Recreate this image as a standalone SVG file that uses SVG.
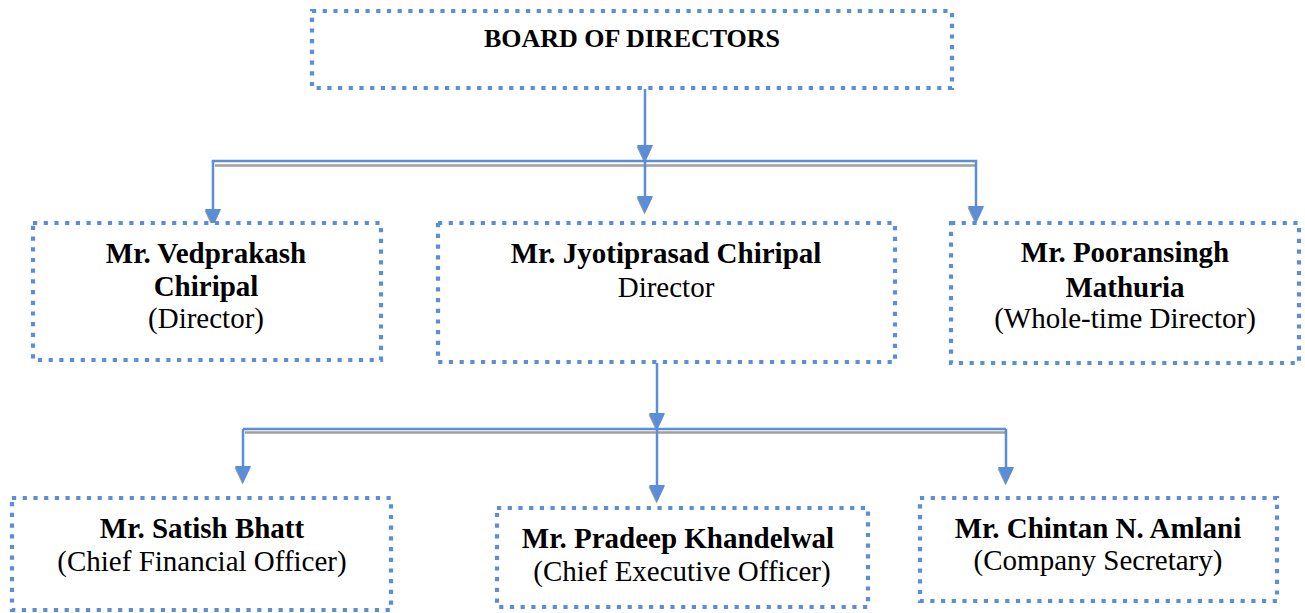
<svg xmlns="http://www.w3.org/2000/svg" width="1305" height="613" viewBox="0 0 1305 613">
<style>
.box{fill:#ffffff;stroke:#5a8ed8;stroke-width:4.2;stroke-dasharray:4.2 6.5}
.line{fill:none;stroke:#5a8ed8;stroke-width:2.5}
.shadow{fill:none;stroke:#a0a0a0;stroke-width:2.3}
text{font-family:"Liberation Serif","Times New Roman",serif;fill:#000;text-anchor:middle}
.b{font-weight:bold;font-size:29px}
.r{font-size:29px}
.t{font-weight:bold;font-size:26px}
</style>
<defs>
<marker id="arr" markerUnits="userSpaceOnUse" viewBox="0 0 19 17" refX="0" refY="8.5" markerWidth="19" markerHeight="17" orient="auto" overflow="visible">
<path d="M1.5,1 L18.5,9 L1.5,17 Z" fill="#9a9a9a"/>
<path d="M0,0.5 L17,8.5 L0,16.5 Z" fill="#5a8ed8"/>
</marker>
</defs>
<rect width="1305" height="613" fill="#ffffff"/>
<g id="connectors">
<line class="shadow" x1="215" y1="165.5" x2="975" y2="165.5"/>
<line class="line" x1="645" y1="89" x2="645" y2="145" marker-end="url(#arr)"/>
<polyline class="line" points="213,162 213,161 976,161 976,162"/>
<line class="line" x1="213" y1="161" x2="213" y2="209" marker-end="url(#arr)"/>
<line class="line" x1="645" y1="161" x2="645" y2="196" marker-end="url(#arr)"/>
<line class="line" x1="976" y1="161" x2="976" y2="206" marker-end="url(#arr)"/>
<line class="shadow" x1="245" y1="432.5" x2="1005" y2="432.5"/>
<line class="line" x1="657" y1="363" x2="657" y2="413" marker-end="url(#arr)"/>
<polyline class="line" points="243,429 1006,429"/>
<line class="line" x1="243" y1="429" x2="243" y2="466" marker-end="url(#arr)"/>
<line class="line" x1="657" y1="429" x2="657" y2="485" marker-end="url(#arr)"/>
<line class="line" x1="1006" y1="429" x2="1006" y2="467" marker-end="url(#arr)"/>
</g>
<g id="board">
<rect class="box" x="312" y="11" width="640" height="77"/>
<text class="t" x="632" y="47">BOARD OF DIRECTORS</text>
</g>
<g id="vedprakash">
<rect class="box" x="33" y="223" width="348" height="137"/>
<text class="b" x="206" y="263">Mr. Vedprakash</text>
<text class="b" x="206" y="296">Chiripal</text>
<text class="r" x="206" y="328">(Director)</text>
</g>
<g id="jyotiprasad">
<rect class="box" x="438" y="223" width="457" height="139"/>
<text class="b" x="666" y="263">Mr. Jyotiprasad Chiripal</text>
<text class="r" x="666" y="297">Director</text>
</g>
<g id="pooransingh">
<rect class="box" x="951" y="223" width="348" height="140"/>
<text class="b" x="1125" y="262">Mr. Pooransingh</text>
<text class="b" x="1125" y="297">Mathuria</text>
<text class="r" x="1125" y="328">(Whole-time Director)</text>
</g>
<g id="satish">
<rect class="box" x="12" y="498" width="379" height="112"/>
<text class="b" x="202" y="538">Mr. Satish Bhatt</text>
<text class="r" x="202" y="571">(Chief Financial Officer)</text>
</g>
<g id="pradeep">
<rect class="box" x="497" y="508" width="371" height="99"/>
<text class="b" x="678" y="548">Mr. Pradeep Khandelwal</text>
<text class="r" x="682" y="581">(Chief Executive Officer)</text>
</g>
<g id="chintan">
<rect class="box" x="920" y="498" width="357" height="103"/>
<text class="b" x="1098" y="538">Mr. Chintan N. Amlani</text>
<text class="r" x="1098" y="570">(Company Secretary)</text>
</g>
</svg>
